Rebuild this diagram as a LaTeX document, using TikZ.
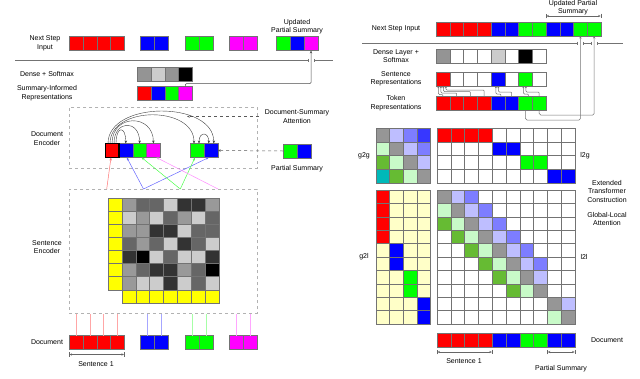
\documentclass[tikz,border=0pt]{standalone}
\usepackage{fontspec}
\setmainfont{Liberation Sans}
\usepackage{xcolor}
\usetikzlibrary{arrows.meta,positioning,calc}

\definecolor{magenta}{RGB}{255,0,255}
\definecolor{yellow}{RGB}{255,255,0}
\definecolor{medgreen}{RGB}{102,187,51}
\definecolor{lgreen}{RGB}{200,250,200}
\definecolor{lblue}{RGB}{190,190,255}
\definecolor{mblue}{RGB}{125,125,255}
\definecolor{dblue}{RGB}{55,55,255}
\definecolor{tealc}{RGB}{0,185,185}
\definecolor{pyellow}{RGB}{255,255,200}
\definecolor{midgray}{RGB}{150,150,150}

\begin{document}
\begin{tikzpicture}[x=1pt,y=1pt,>={Stealth[length=2.5pt,width=2.2pt]},
  cell/.style={draw=black!55,line width=0.4pt,minimum width=13.8,minimum height=14,inner sep=0,outer sep=0},
  lbl/.style={font=\fontsize{7}{8.5}\selectfont,align=center,inner sep=1pt},
  dashbox/.style={draw=black!30,dashed,line width=0.6pt,inner sep=0},
  attn/.style={black!75,line width=0.4pt,-{Stealth[length=3pt,width=2.4pt]}},
  route/.style={black!55,line width=0.5pt,rounded corners=1.5pt},
  dimline/.style={black!60,line width=0.4pt,|<->|},
  sepline/.style={black!55,line width=0.5pt}]
\useasboundingbox (0,0) rectangle (640,-378);

% ---------- left: summary step ----------
\foreach \i in {1,...,4} \node[cell,fill=red] (lns\i) at ({76+(\i-1)*13.8},-43.5) {};
\foreach \i in {5,6} \node[cell,fill=blue] (lns\i) at ({147+(\i-5)*13.8},-43.5) {};
\foreach \i in {7,8} \node[cell,fill=green] (lns\i) at ({192+(\i-7)*13.8},-43.5) {};
\foreach \i in {9,10} \node[cell,fill=magenta] (lns\i) at ({236+(\i-9)*13.8},-43.5) {};
\foreach \col [count=\i] in {green,blue,magenta} \node[cell,fill=\col] (lup\i) at ({283+(\i-1)*14},-43.5) {};
\node[lbl] (lnsl) at (45,-43.5) {Next Step\\Input};
\node[lbl] (lupl) at (297,-26.5) {Updated\\Partial Summary};

\coordinate (lsep) at (15,-60);
\coordinate (lgap) at (lup3 |- lsep);
\draw[sepline,-{Bar[width=3pt]}] (lsep) -- ([xshift=-3]lgap);
\draw[sepline,{Bar[width=3pt]}-] ([xshift=3]lgap) -- (333,-60);

\foreach \v [count=\i] in {42,20,42,100} \node[cell,fill=black!\v] (lds\i) at ({144+(\i-1)*13.8},-74) {};
\foreach \col [count=\i] in {red,blue,green,magenta} \node[cell,fill=\col] (lsi\i) at ({144+(\i-1)*13.8},-93) {};
\node[lbl] (ldsl) at (47,-74) {Dense + Softmax};
\node[lbl] (lsil) at (47,-93) {Summary-Informed\\Representations};
\draw[route,black!70,rounded corners=1pt,-{Stealth[length=3pt,width=2.4pt]}] (lsi4.north) -- ++(0,2.5) -| (lup3.south);

% document encoder
\node[dashbox,minimum width=188,minimum height=61,anchor=north west] (denc) at (69,-107) {};
\node[lbl] (dencl) at (47,-138.5) {Document\\Encoder};
\foreach \col [count=\i] in {red,blue,green,magenta} \node[cell,fill=\col] (de\i) at ({112+(\i-1)*13.8},-150.5) {};
\node[cell,fill=green] (de5) at (197,-150.5) {};
\node[cell,fill=blue] (de6) at (210.8,-150.5) {};
\draw[line width=1.2pt] (de1.south west) rectangle (de1.north east);
\node[cell,fill=green] (ps1) at (290,-151) {};
\node[cell,fill=blue] (ps2) at (303.8,-151) {};
\node[lbl] (psl) at (297,-169) {Partial Summary};
\draw[dashed,black!65,line width=0.5pt,-{Stealth[length=3pt,width=2.4pt]}] (ps1.west) -- (de6.east);
\node[lbl] (dsa) at (297,-116.5) {Document-Summary\\Attention};
\coordinate (dsat) at (187,-116.5);
\draw[dashed,black!65,line width=0.5pt,-{Stealth[length=3pt,width=2.4pt]}] ([xshift=-5]dsa.west) -- (dsat);

\draw[attn] ([xshift=4]de1.north) .. controls +(0,18) and +(0,18) .. (de2.north);
\draw[attn] ([xshift=2]de1.north) .. controls +(0,24) and +(0,24) .. (de3.north);
\draw[attn] (de1.north) .. controls +(0,30) and +(0,30) .. (de4.north);
\draw[attn] ([xshift=-2]de1.north) .. controls +(0,38) and +(0,38) .. ([xshift=-3]de5.north);
\draw[attn] ([xshift=-4]de1.north) .. controls +(0,43) and +(0,43) .. ([xshift=3]de6.north);
\draw[attn,{Stealth[length=3pt,width=2.4pt]}-{Stealth[length=3pt,width=2.4pt]}] ([xshift=2]de5.north) .. controls +(0,12) and +(0,12) .. ([xshift=-2]de6.north);

% sentence encoder
\node[dashbox,minimum width=188,minimum height=124,anchor=north west] (senc) at (69,-189) {};
\node[lbl] (sencl) at (47,-247) {Sentence\\Encoder};
\coordinate (fr) at ($(senc.north west)!0.2!(senc.north east)$);
\coordinate (fb) at ($(senc.north west)!0.395!(senc.north east)$);
\coordinate (fg) at ($(senc.north west)!0.59!(senc.north east)$);
\coordinate (fm) at ($(senc.north west)!0.79!(senc.north east)$);
\draw[red!55,line width=0.5pt,-{Stealth[length=3pt,width=2.4pt]}] (fr) -- ([xshift=-1]de1.south);
\draw[blue!60,line width=0.5pt,-{Stealth[length=3pt,width=2.4pt]}] (fb) -- ([xshift=1]de2.south);
\draw[blue!60,line width=0.5pt,-{Stealth[length=3pt,width=2.4pt]}] (fb) -- ([xshift=-2]de6.south);
\draw[green!70,line width=0.5pt,-{Stealth[length=3pt,width=2.4pt]}] (fg) -- ([xshift=2]de3.south);
\draw[green!70,line width=0.5pt,-{Stealth[length=3pt,width=2.4pt]}] (fg) -- ([xshift=-2]de5.south);
\draw[magenta!45,line width=0.5pt,-{Stealth[length=3pt,width=2.4pt]}] (fm) -- ([xshift=3]de4.south);

\foreach \r in {1,...,7} \node[cell,fill=yellow,minimum width=13.9,minimum height=13.1] (sy\r) at (114.9,{-204.55-(\r-1)*13.1}) {};
\foreach \row [count=\r] in {{40,60,60,20,80,80,40},{20,40,20,60,40,20,60},{40,40,80,80,20,60,60},
  {60,40,60,20,80,60,20},{80,100,20,60,20,20,80},{40,60,80,80,40,60,100},{40,20,20,80,20,60,20}}
  \foreach \v [count=\k] in \row
    \node[cell,fill=black!\v,minimum width=13.9,minimum height=13.1] (sg\r-\k) at ({128.8+(\k-1)*13.9},{-204.55-(\r-1)*13.1}) {};
\foreach \k in {1,...,7} \node[cell,fill=yellow,minimum width=13.9,minimum height=13.1] (sb\k) at ({128.8+(\k-1)*13.9},-296.25) {};

% document tokens
\foreach \i in {1,...,4} \node[cell,fill=red] (ld\i) at ({76+(\i-1)*13.8},-342.5) {};
\foreach \i in {5,6} \node[cell,fill=blue] (ld\i) at ({147+(\i-5)*13.8},-342.5) {};
\foreach \i in {7,8} \node[cell,fill=green] (ld\i) at ({192+(\i-7)*13.8},-342.5) {};
\foreach \i in {9,10} \node[cell,fill=magenta] (ld\i) at ({236+(\i-9)*13.8},-342.5) {};
\foreach \i/\col in {1/red,2/red,3/red,4/red,5/blue,6/blue,7/green,8/green,9/magenta,10/magenta}
  \draw[\col!35,line width=0.6pt] (ld\i.north) -- (ld\i.north |- senc.south);
\node[lbl] (ldl) at (47,-342.5) {Document};
\draw[dimline] ([yshift=-5]ld1.south west) -- ([yshift=-5]ld4.south east);
\node[lbl] (ls1) at (96,-364) {Sentence 1};

% ---------- right: extended transformer ----------
\foreach \col [count=\i] in {red,red,red,red,blue,blue,green,green,blue,blue,green,green}
  \node[cell,fill=\col,minimum width=13.75] (rns\i) at ({442.9+(\i-1)*13.75},-29) {};
\node[lbl] (rnsl) at (396,-29) {Next Step Input};
\draw[dimline] ([yshift=6]rns9.north west) -- ([yshift=6]rns12.north east);
\node[lbl] (rupl) at (573,-7.5) {Updated Partial\\Summary};

\coordinate (rsep) at (362,-43);
\coordinate (rg1) at (rns11 |- rsep);
\coordinate (rg2) at (rns12 |- rsep);
\draw[sepline,-{Bar[width=3pt]}] (rsep) -- ([xshift=-3]rg1);
\draw[sepline,{Bar[width=3pt]}-{Bar[width=3pt]}] ([xshift=3]rg1) -- ([xshift=-3]rg2);
\draw[sepline,{Bar[width=3pt]}-] ([xshift=3]rg2) -- (623,-43);

\foreach \v [count=\i] in {42,0,0,0,20,0,100,0}
  \node[cell,fill=black!\v,minimum width=13.75] (rdl\i) at ({442.9+(\i-1)*13.75},-56) {};
\foreach \col [count=\i] in {red,white,white,white,blue,white,green,white}
  \node[cell,fill=\col,minimum width=13.75] (rsr\i) at ({442.9+(\i-1)*13.75},-79) {};
\foreach \col [count=\i] in {red,red,red,red,blue,blue,green,green}
  \node[cell,fill=\col,minimum width=13.75] (rtk\i) at ({442.9+(\i-1)*13.75},-103) {};
\node[lbl] (rdll) at (396,-56) {Dense Layer +\\Softmax};
\node[lbl] (rsrl) at (396,-79) {Sentence\\Representations};
\node[lbl] (rtkl) at (396,-103) {Token\\Representations};

\foreach \i/\dx/\lv in {1/-4.5/1.5,2/-2/3,3/0.5/4.5,4/3/6}
  \draw[route,rounded corners=1pt,-{Stealth[length=2.2pt,width=2pt]}] (rtk\i.north) -- ++(0,\lv) -| ([xshift=\dx]rsr1.south);
\foreach \i/\sx/\dx/\lv in {5/3/-2/2,6/0/0.5/4}
  \draw[route,rounded corners=1pt,-{Stealth[length=2.2pt,width=2pt]}] ([xshift=\sx]rtk\i.north) -- ++(0,\lv) -| ([xshift=\dx]rsr5.south);
\foreach \i/\sx/\dx/\lv in {7/3/-2/2,8/0/0.5/4}
  \draw[route,rounded corners=1pt,-{Stealth[length=2.2pt,width=2pt]}] ([xshift=\sx]rtk\i.north) -- ++(0,\lv) -| ([xshift=\dx]rsr7.south);
\draw[route,-{Stealth[length=2.5pt,width=2.2pt]}] (rtk7.south) -- ++(0,-10) -| (rns11.south);
\draw[route,-{Stealth[length=2.5pt,width=2.2pt]}] (rtk8.south) -- ++(0,-5) -| (rns12.south);

% attention blocks
\foreach \row [count=\r] in {{midgray,lblue,mblue,dblue},{lgreen,midgray,lblue,mblue},
  {medgreen,lgreen,midgray,lblue},{tealc,medgreen,lgreen,midgray}}
  \foreach \col [count=\k] in \row
    \node[cell,fill=\col,minimum width=13.6,minimum height=13.75] (gg\r-\k) at ({382.8+(\k-1)*13.6},{-134.9-(\r-1)*13.75}) {};
\foreach \row [count=\r] in {{red,red,red,red,white,white,white,white,white,white},
  {white,white,white,white,blue,blue,white,white,white,white},
  {white,white,white,white,white,white,green,green,white,white},
  {white,white,white,white,white,white,white,white,blue,blue}}
  \foreach \col [count=\k] in \row
    \node[cell,fill=\col,minimum width=13.8,minimum height=13.75] (lg\r-\k) at ({443.9+(\k-1)*13.8},{-134.9-(\r-1)*13.75}) {};
\foreach \row [count=\r] in {{red,pyellow,pyellow,pyellow},{red,pyellow,pyellow,pyellow},
  {red,pyellow,pyellow,pyellow},{red,pyellow,pyellow,pyellow},
  {pyellow,blue,pyellow,pyellow},{pyellow,blue,pyellow,pyellow},
  {pyellow,pyellow,green,pyellow},{pyellow,pyellow,green,pyellow},
  {pyellow,pyellow,pyellow,blue},{pyellow,pyellow,pyellow,blue}}
  \foreach \col [count=\k] in \row
    \node[cell,fill=\col,minimum width=13.6,minimum height=13.4] (gl\r-\k) at ({382.8+(\k-1)*13.6},{-196.7-(\r-1)*13.4}) {};
\foreach \r in {1,...,10}
  \foreach \k in {1,...,10}{
    \pgfmathtruncatemacro\d{\k-\r}
    \pgfmathtruncatemacro\same{(\r<9)==(\k<9)}
    \def\cc{white}
    \ifnum\same=1
      \ifcase\numexpr\d+2\relax \def\cc{medgreen}\or\def\cc{lgreen}\or\def\cc{midgray}\or\def\cc{lblue}\or\def\cc{mblue}\fi
    \fi
    \node[cell,fill=\cc,minimum width=13.8,minimum height=13.4] (ll\r-\k) at ({443.9+(\k-1)*13.8},{-196.7-(\r-1)*13.4}) {};
  }
\node[lbl] (g2gl) at (364,-156) {g2g};
\node[lbl] (l2gl) at (585,-156) {l2g};
\node[lbl] (g2ll) at (364,-257) {g2l};
\node[lbl] (l2ll) at (584,-257) {l2l};
\node[lbl] (etcl) at (607,-191) {Extended\\Transformer\\Construction};
\node[lbl] (glal) at (607,-219) {Global-Local\\Attention};

% document input
\foreach \col [count=\i] in {red,red,red,red,blue,blue,green,green,blue,blue}
  \node[cell,fill=\col] (rd\i) at ({443.9+(\i-1)*13.8},-340) {};
\node[lbl] (rdl) at (607,-340) {Document};
\draw[dimline] ([yshift=-5]rd1.south west) -- ([yshift=-5]rd4.south east);
\node[lbl] (rs1) at (464,-361) {Sentence 1};
\draw[dimline] ([yshift=-5]rd9.south west) -- ([yshift=-5]rd10.south east);
\node[lbl] (rpsl) at (561,-369) {Partial Summary};
\end{tikzpicture}
\end{document}
